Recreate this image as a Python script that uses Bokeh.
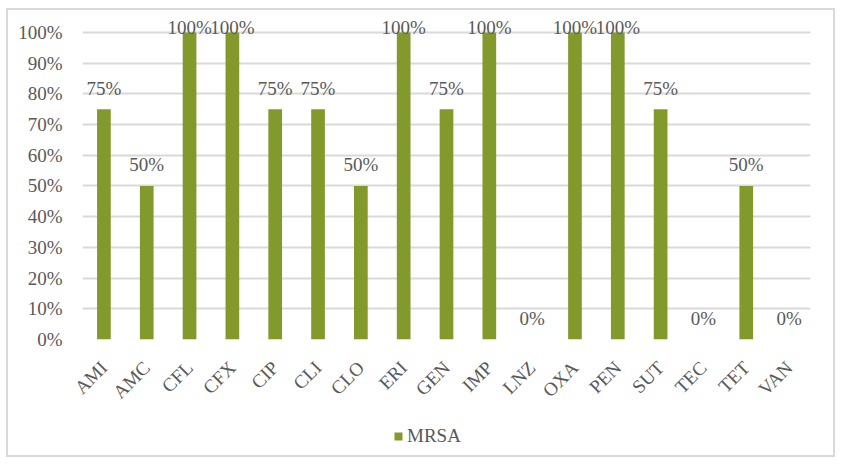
from math import pi
from bokeh.plotting import figure
from bokeh.layouts import column
from bokeh.models import ColumnDataSource, NumeralTickFormatter, FixedTicker, Legend, LegendItem, Range1d, FactorRange
from bokeh.embed import file_html
from bokeh.resources import INLINE

categories = ["AMI", "AMC", "CFL", "CFX", "CIP", "CLI", "CLO", "ERI", "GEN", "IMP",
              "LNZ", "OXA", "PEN", "SUT", "TEC", "TET", "VAN"]
mrsa = [0.75, 0.50, 1.00, 1.00, 0.75, 0.75, 0.50, 1.00, 0.75, 1.00,
        0.00, 1.00, 1.00, 0.75, 0.00, 0.50, 0.00]
labels = [f"{int(round(v * 100))}%" for v in mrsa]
# labels at the top of the plot area are pushed down onto the bar (as in the source)
label_offsets = [-5 if v >= 1.0 else -21 for v in mrsa]
series_name = "MRSA"

FONT = "Liberation Serif"
TXT = "#595959"
BAR = "#82992C"

src = ColumnDataSource(dict(cat=categories, val=mrsa, lab=labels, yoff=label_offsets))

p = figure(width=825, height=402, x_range=FactorRange(*categories),
           y_range=Range1d(0, 1.055), output_backend="svg", toolbar_location=None,
           min_border_left=74, min_border_right=23, min_border_top=5, min_border_bottom=69)
p.outline_line_color = None

p.vbar(x="cat", top="val", width=0.32, source=src, fill_color=BAR, line_color=None)
p.text(x="cat", y="val", text="lab", source=src, text_align="center", text_baseline="alphabetic",
       y_offset="yoff", text_font=FONT, text_font_size="19px", text_color=TXT)

p.yaxis.ticker = FixedTicker(ticks=[i / 10 for i in range(11)])
p.yaxis.formatter = NumeralTickFormatter(format="0%")
for ax in (p.xaxis, p.yaxis):
    ax.axis_line_color = None
    ax.major_tick_line_color = None
    ax.minor_tick_line_color = None
    ax.major_label_text_font = FONT
    ax.major_label_text_font_size = "19px"
    ax.major_label_text_color = TXT
p.yaxis.major_label_standoff = 14
p.xaxis.major_label_standoff = 19
p.xaxis.major_label_orientation = pi / 4

p.xgrid.grid_line_color = None
p.ygrid.grid_line_color = "#d9d9d9"
p.ygrid.grid_line_width = 2

# legend strip below the chart (its swatch renderer has zero height, so draws nothing)
lf = figure(width=825, height=43, output_backend="svg", toolbar_location=None,
            x_range=Range1d(0, 1), y_range=Range1d(0, 1),
            x_axis_type=None, y_axis_type=None, min_border=0)
lf.outline_line_color = None
lf.xgrid.visible = False
lf.ygrid.visible = False
lr = lf.vbar(x=[0.5], top=[0], bottom=[0], width=0.0, fill_color=BAR, line_color=None)
legend = Legend(items=[LegendItem(label=series_name, renderers=[lr])], location=(311, 8),
                orientation="horizontal", padding=0, margin=0, border_line_color=None,
                background_fill_alpha=0, glyph_width=10, glyph_height=10, label_height=10,
                label_standoff=4, label_text_font=FONT, label_text_font_size="19px",
                label_text_color=TXT)
lf.add_layout(legend)

layout = column(p, lf, spacing=0,
                styles={"border": "2px solid #d9d9d9", "box-sizing": "content-box",
                        "margin-left": "6px", "margin-top": "8px"})

open("out.html", "w").write(file_html(layout, INLINE))
